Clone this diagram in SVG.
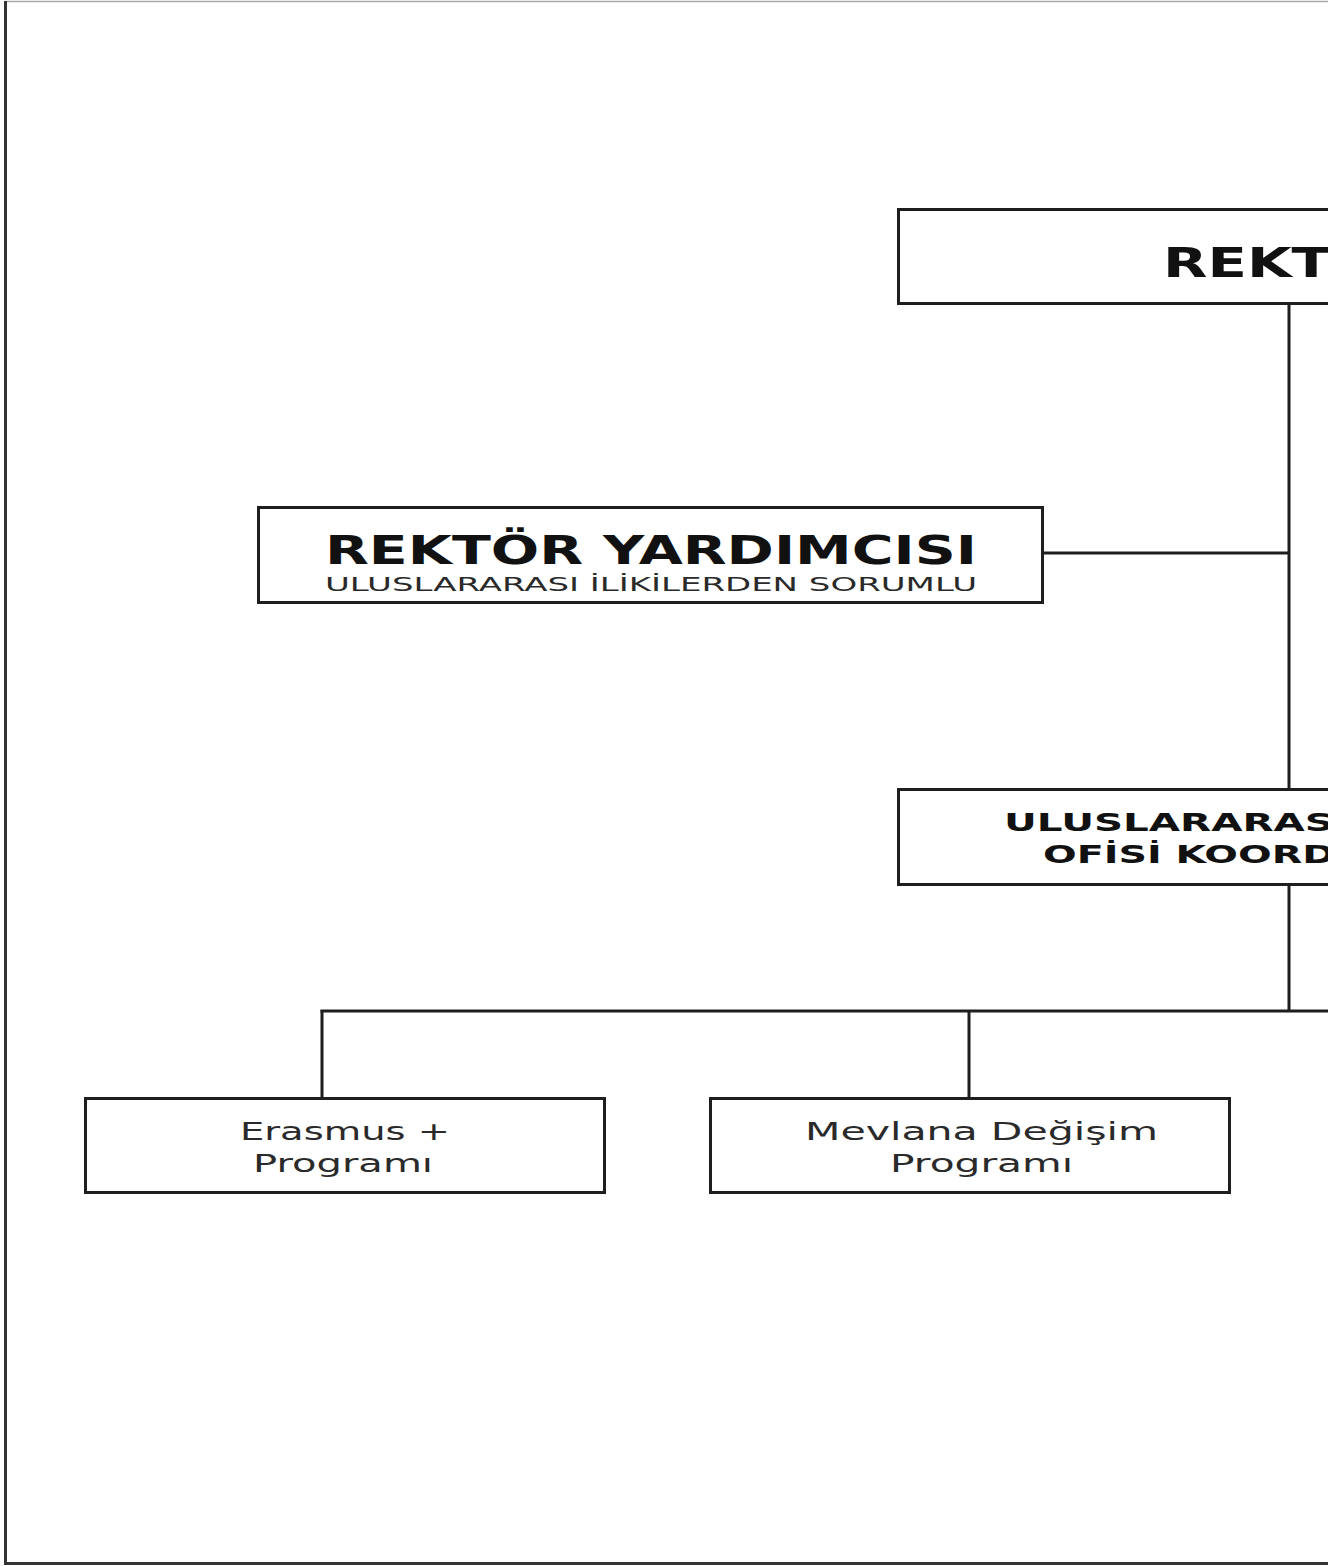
<svg xmlns="http://www.w3.org/2000/svg" width="1328" height="1566" viewBox="0 0 1328 1566">
<style>
.box{fill:#fff;stroke:#1e1e1e;stroke-width:3}
.conn{fill:none;stroke:#1e1e1e;stroke-width:3}
.bold{font-family:"DejaVu Sans","Liberation Sans",sans-serif;font-weight:bold;fill:#111}
.reg{font-family:"DejaVu Sans","Liberation Sans",sans-serif;fill:#2a2a2a}
</style>
<rect x="0" y="0" width="1328" height="1566" fill="#fff"/>
<g id="frame">
<line x1="5" y1="1.5" x2="1328" y2="1.5" stroke="#aaa" stroke-width="1.5"/>
<path d="M5.5 1 V1563.5 H1328" fill="none" stroke="#333" stroke-width="3"/>
</g>
<g id="connectors">
<line class="conn" x1="1289" y1="304" x2="1289" y2="789"/>
<line class="conn" x1="1042" y1="553" x2="1289" y2="553"/>
<line class="conn" x1="1289" y1="884" x2="1289" y2="1011"/>
<line class="conn" x1="320.5" y1="1011" x2="1340" y2="1011"/>
<line class="conn" x1="322" y1="1010" x2="322" y2="1098"/>
<line class="conn" x1="969" y1="1011" x2="969" y2="1098"/>
</g>
<g id="rektor">
<rect class="box" x="898.5" y="209.5" width="784" height="94"/>
<text class="bold" x="1163" y="277" font-size="41" textLength="168" lengthAdjust="spacingAndGlyphs">REKT</text>
</g>
<g id="rektor-yardimcisi">
<rect class="box" x="258.5" y="507.5" width="784" height="95"/>
<text class="bold" x="325" y="564" font-size="39" textLength="652" lengthAdjust="spacingAndGlyphs">REKTÖR YARDIMCISI</text>
<text class="reg" x="325" y="591" font-size="20" textLength="652" lengthAdjust="spacingAndGlyphs">ULUSLARARASI İLİKİLERDEN SORUMLU</text>
</g>
<g id="uluslararasi-ofis">
<rect class="box" x="898.5" y="789.5" width="784" height="95"/>
<text class="bold" x="1004" y="831" font-size="25" textLength="330" lengthAdjust="spacingAndGlyphs">ULUSLARARAS</text>
<text class="bold" x="1043" y="863" font-size="25" textLength="292" lengthAdjust="spacingAndGlyphs">OFİSİ KOORD</text>
</g>
<g id="erasmus">
<rect class="box" x="85.5" y="1098.5" width="519" height="94"/>
<text class="reg" x="240" y="1140" font-size="25" textLength="210" lengthAdjust="spacingAndGlyphs">Erasmus +</text>
<text class="reg" x="253" y="1172" font-size="25" textLength="180" lengthAdjust="spacingAndGlyphs">Programı</text>
</g>
<g id="mevlana">
<rect class="box" x="710.5" y="1098.5" width="519" height="94"/>
<text class="reg" x="805" y="1140" font-size="25" textLength="353" lengthAdjust="spacingAndGlyphs">Mevlana Değişim</text>
<text class="reg" x="890" y="1172" font-size="25" textLength="183" lengthAdjust="spacingAndGlyphs">Programı</text>
</g>
</svg>
